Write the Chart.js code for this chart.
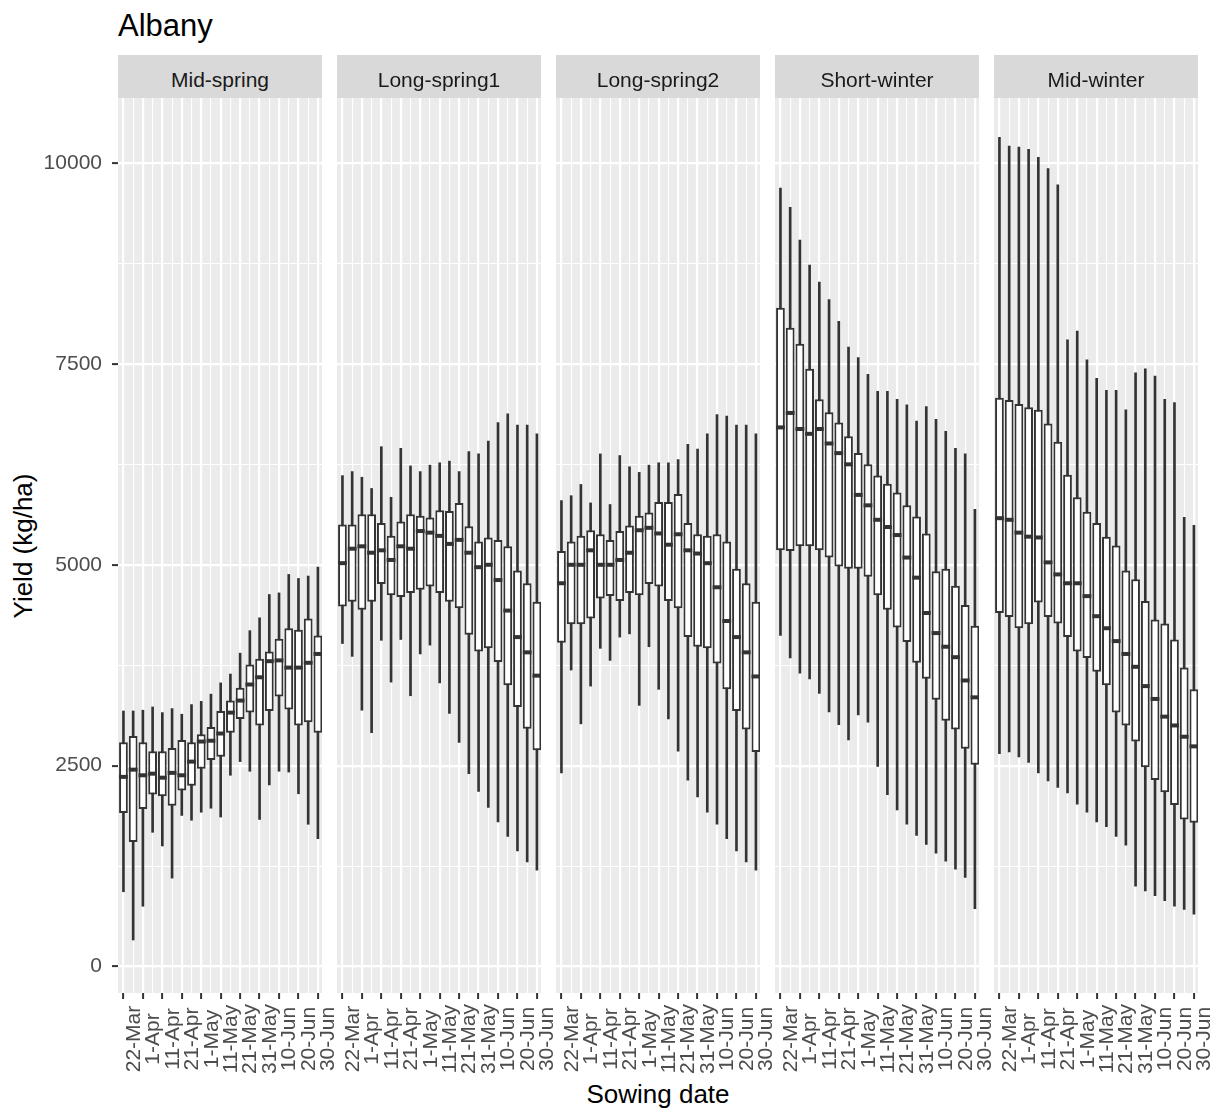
<!DOCTYPE html>
<html>
<head>
<meta charset="utf-8">
<title>Albany</title>
<script src="https://cdn.jsdelivr.net/npm/chart.js@4.4.1/dist/chart.umd.min.js"></script>
<style>
  html, body { margin: 0; padding: 0; background: #ffffff; }
  #page { position: relative; width: 1214px; height: 1108px; overflow: hidden;
          font-family: "Liberation Sans", Arial, sans-serif; }
  .title { position: absolute; left: 118px; top: 10px; font-size: 31px; line-height: 31px; color: #000; white-space: nowrap; }
  .strip { position: absolute; top: 55px; width: 204px; height: 43px; background: #D9D9D9; }
  .strip span { position: absolute; left: 0; right: 0; top: 14px; text-align: center;
                font-size: 21px; line-height: 21px; color: #1A1A1A; white-space: nowrap; }
  .xtitle { position: absolute; left: 458px; top: 1081px; width: 400px; text-align: center;
            font-size: 26px; line-height: 26px; color: #000; }
  .ytitle { position: absolute; left: -127px; top: 532.5px; width: 300px; height: 26px; text-align: center;
            font-size: 26px; line-height: 26px; color: #000; transform: rotate(-90deg); white-space: nowrap; }
  canvas { position: absolute; top: 98px; }
</style>
</head>
<body>
<div id="page">
  <div class="title">Albany</div>
  <div class="ytitle">Yield (kg/ha)</div>
  <div class="xtitle">Sowing date</div>
</div>
<script>
// Sowing dates as day of year, one box every 5 days (22-Mar .. 30-Jun)
const sowingDays = [81, 86, 91, 96, 101, 106, 111, 116, 121, 126, 131, 136, 141, 146, 151, 156, 161, 166, 171, 176, 181];
// Labelled dates on the x axis
const tickDays = [81, 91, 101, 111, 121, 131, 141, 151, 161, 171, 181];
const tickLabels = ['22-Mar', '1-Apr', '11-Apr', '21-Apr', '1-May', '11-May', '21-May', '31-May', '10-Jun', '20-Jun', '30-Jun'];
// Labelled yield values on the y axis
const yTickValues = [0, 2500, 5000, 7500, 10000];

// Panel (maturity type) names
const panelNames = ['Mid-spring', 'Long-spring1', 'Long-spring2', 'Short-winter', 'Mid-winter'];

// Yield (kg/ha) box statistics per sowing date
const midSpringMax    = [3180, 3180, 3190, 3230, 3160, 3210, 3140, 3260, 3300, 3390, 3530, 3640, 3900, 4180, 4340, 4630, 4650, 4880, 4830, 4860, 4970];
const midSpringQ3     = [2790, 2870, 2790, 2680, 2680, 2720, 2820, 2790, 2890, 2980, 3180, 3310, 3470, 3760, 3830, 3920, 4080, 4210, 4190, 4330, 4120];
const midSpringMedian = [2360, 2450, 2380, 2400, 2350, 2410, 2380, 2550, 2800, 2810, 2900, 3160, 3310, 3510, 3600, 3800, 3810, 3720, 3720, 3780, 3890];
const midSpringQ1     = [1910, 1550, 1960, 2140, 2120, 2000, 2190, 2250, 2460, 2570, 2610, 2910, 3080, 3160, 3000, 3180, 3360, 3200, 3000, 3040, 2910];
const midSpringMin    = [930, 330, 750, 1670, 1500, 1100, 1880, 1820, 1920, 1970, 1860, 2380, 2550, 2430, 1830, 2260, 2430, 2420, 2150, 1770, 1590];

const longSpring1Max    = [6110, 6160, 6090, 5950, 6470, 5840, 6450, 6230, 6160, 6240, 6270, 6290, 6160, 6410, 6380, 6540, 6770, 6880, 6740, 6740, 6630];
const longSpring1Q3     = [5500, 5500, 5630, 5630, 5520, 5360, 5540, 5630, 5610, 5590, 5680, 5670, 5770, 5480, 5290, 5340, 5310, 5230, 4930, 4770, 4540];
const longSpring1Median = [5020, 5200, 5230, 5150, 5180, 5060, 5230, 5200, 5420, 5400, 5360, 5260, 5310, 5150, 4970, 5000, 4810, 4430, 4100, 3910, 3620];
const longSpring1Q1     = [4480, 4540, 4440, 4540, 4760, 4620, 4600, 4650, 4690, 4730, 4650, 4540, 4460, 4130, 3920, 3960, 3790, 3500, 3230, 2960, 2690];
const longSpring1Min    = [4020, 3860, 3190, 2910, 4060, 3540, 4070, 3370, 3890, 4000, 3530, 3150, 2790, 2400, 2180, 1980, 1800, 1620, 1440, 1300, 1200];

const longSpring2Max    = [5800, 5860, 6000, 5770, 6380, 5750, 6360, 6220, 6150, 6240, 6270, 6270, 6310, 6500, 6440, 6630, 6870, 6850, 6740, 6740, 6630];
const longSpring2Q3     = [5170, 5290, 5360, 5430, 5380, 5310, 5420, 5490, 5610, 5650, 5780, 5780, 5880, 5520, 5380, 5360, 5380, 5290, 4950, 4770, 4540];
const longSpring2Median = [4770, 5000, 5000, 5180, 5000, 5000, 5060, 5150, 5430, 5460, 5390, 5250, 5380, 5180, 5140, 5020, 4720, 4300, 4100, 3910, 3610];
const longSpring2Q1     = [4030, 4260, 4260, 4330, 4580, 4610, 4550, 4650, 4620, 4760, 4730, 4550, 4460, 4100, 3980, 3960, 3770, 3450, 3180, 2950, 2670];
const longSpring2Min    = [2410, 3690, 3020, 3490, 3960, 3810, 4100, 4140, 3250, 3980, 3450, 3080, 2680, 2320, 2110, 1920, 1770, 1590, 1440, 1300, 1200];

const shortWinterMax    = [9690, 9450, 9040, 8730, 8520, 8300, 8030, 7710, 7580, 7370, 7160, 7160, 7060, 6990, 6790, 6970, 6810, 6660, 6450, 6380, 5690];
const shortWinterQ3     = [8200, 7950, 7750, 7440, 7060, 6900, 6770, 6600, 6390, 6250, 6110, 6010, 5900, 5740, 5600, 5390, 4920, 4950, 4740, 4500, 4240];
const shortWinterMedian = [6710, 6890, 6690, 6630, 6690, 6510, 6390, 6250, 5870, 5740, 5560, 5470, 5370, 5090, 4840, 4400, 4150, 3980, 3850, 3560, 3350];
const shortWinterQ1     = [5180, 5170, 5230, 5230, 5180, 5090, 4980, 4950, 4950, 4850, 4620, 4440, 4220, 4040, 3780, 3580, 3320, 3060, 2950, 2710, 2510];
const shortWinterMin    = [4120, 3840, 3650, 3580, 3400, 3170, 3010, 2820, 3130, 3040, 2490, 2140, 1950, 1770, 1630, 1520, 1410, 1310, 1210, 1110, 720];

const midWinterMax    = [10320, 10210, 10200, 10170, 10070, 9930, 9730, 7800, 7910, 7550, 7320, 7170, 7170, 6930, 7390, 7440, 7350, 7060, 7020, 5590, 5490];
const midWinterQ3     = [7080, 7050, 7000, 6960, 6930, 6760, 6530, 6120, 5840, 5660, 5520, 5350, 5240, 4930, 4820, 4550, 4320, 4270, 4070, 3720, 3450];
const midWinterMedian = [5580, 5560, 5400, 5350, 5340, 5030, 4880, 4770, 4770, 4610, 4360, 4210, 4050, 3890, 3730, 3490, 3330, 3110, 3000, 2860, 2740];
const midWinterQ1     = [4400, 4350, 4210, 4260, 4530, 4350, 4270, 4100, 3920, 3840, 3670, 3500, 3160, 3000, 2800, 2480, 2320, 2170, 2010, 1830, 1790];
const midWinterMin    = [2650, 2670, 2610, 2540, 2410, 2310, 2230, 2160, 2020, 1920, 1800, 1740, 1620, 1510, 1000, 940, 880, 820, 750, 710, 650];

// [min, q1, median, q3, max] per panel
const panelStats = [
  [midSpringMin, midSpringQ1, midSpringMedian, midSpringQ3, midSpringMax],
  [longSpring1Min, longSpring1Q1, longSpring1Median, longSpring1Q3, longSpring1Max],
  [longSpring2Min, longSpring2Q1, longSpring2Median, longSpring2Q3, longSpring2Max],
  [shortWinterMin, shortWinterQ1, shortWinterMedian, shortWinterQ3, shortWinterMax],
  [midWinterMin, midWinterQ1, midWinterMedian, midWinterQ3, midWinterMax]
];

// Grid: major lines at labelled values, minor lines half-way between them
const yGridValues = [];
yTickValues.forEach((v, i) => {
  yGridValues.push(v);
  if (i < yTickValues.length - 1) yGridValues.push((v + yTickValues[i + 1]) / 2);
});
const FONT = '"Liberation Sans", Arial, sans-serif';
Chart.defaults.font.family = FONT;

const PANEL_LEFT = 118, PANEL_STEP = 219, PANEL_W = 204, Y_AXIS_W = 118, X_AXIS_H = 115, CANVAS_H = 1010;
const LABEL_ROOM = 16;   // room on the right for the last rotated date label
const isMajorX = v => tickDays.includes(v);
const isMajorY = v => yTickValues.includes(v);

// Grey panel background
const panelBackground = {
  id: 'panelBackground',
  beforeDraw(chart) {
    const a = chart.chartArea, ctx = chart.ctx;
    ctx.save();
    ctx.fillStyle = '#EBEBEB';
    ctx.fillRect(a.left, a.top, a.right - a.left, a.bottom - a.top);
    ctx.restore();
  }
};

// Vertical sowing date labels, centred below the axis ticks
const dateLabels = {
  id: 'dateLabels',
  afterDraw(chart) {
    const xs = chart.scales.x, ctx = chart.ctx;
    ctx.save();
    ctx.font = '21px ' + FONT;
    ctx.fillStyle = '#4D4D4D';
    ctx.textAlign = 'center';
    ctx.textBaseline = 'top';
    tickDays.forEach((d, i) => {
      const px = xs.getPixelForValue(d);
      ctx.save();
      ctx.translate(px, xs.top + 46);
      ctx.rotate(-Math.PI / 2);
      ctx.fillText(tickLabels[i], 0, 0);
      ctx.restore();
    });
    ctx.restore();
  }
};

const page = document.getElementById('page');

panelNames.forEach((name, p) => {
  const withY = p === 0;
  const left = PANEL_LEFT + p * PANEL_STEP;

  const strip = document.createElement('div');
  strip.className = 'strip';
  strip.style.left = left + 'px';
  const label = document.createElement('span');
  label.textContent = name;
  strip.appendChild(label);
  page.appendChild(strip);

  const canvas = document.createElement('canvas');
  const cw = (withY ? Y_AXIS_W + PANEL_W : PANEL_W) + LABEL_ROOM;
  canvas.width = cw;
  canvas.height = CANVAS_H;
  canvas.style.left = (withY ? left - Y_AXIS_W : left) + 'px';
  page.appendChild(canvas);

  const [mins, q1s, meds, q3s, maxs] = panelStats[p];

  new Chart(canvas.getContext('2d'), {
    type: 'bar',
    data: {
      datasets: [
        {
          type: 'line',
          label: 'median',
          data: sowingDays.map((d, i) => ({ x: d, y: meds[i] })),
          showLine: false,
          pointStyle: 'line',
          pointRadius: 4.4,
          pointHoverRadius: 4.4,
          pointBorderWidth: 4,
          pointHoverBorderWidth: 4,
          pointBorderColor: '#333333',
          pointBackgroundColor: '#333333',
          order: 0
        },
        {
          type: 'bar',
          label: 'box',
          data: sowingDays.map((d, i) => ({ x: d, y: [q1s[i], q3s[i]] })),
          backgroundColor: '#FFFFFF',
          borderColor: '#333333',
          borderWidth: 2,
          borderSkipped: false,
          grouped: false,
          barPercentage: 1,
          categoryPercentage: 0.9,
          order: 1
        },
        {
          type: 'bar',
          label: 'whisker',
          data: sowingDays.map((d, i) => ({ x: d, y: [mins[i], maxs[i]] })),
          backgroundColor: '#333333',
          borderWidth: 0,
          barThickness: 2,
          grouped: false,
          order: 2
        }
      ]
    },
    options: {
      responsive: false,
      animation: false,
      devicePixelRatio: 1,
      events: [],
      layout: { padding: { left: 0, top: 0, bottom: 0, right: LABEL_ROOM }, autoPadding: false },
      plugins: { legend: { display: false }, tooltip: { enabled: false } },
      scales: {
        x: {
          type: 'linear',
          min: 78.2,
          max: 183.1,
          bounds: 'data',
          offset: false,
          afterBuildTicks: s => { s.ticks = sowingDays.map(v => ({ value: v })); },
          afterFit: s => { s.height = X_AXIS_H; s.paddingLeft = 0; s.paddingRight = 0; },
          ticks: { display: false, autoSkip: false },
          grid: {
            offset: false,
            color: '#FFFFFF',
            lineWidth: c => (c.tick && isMajorX(c.tick.value)) ? 2.2 : 1.1,
            drawTicks: true,
            tickLength: 6,
            tickWidth: 2,
            tickColor: c => (c.tick && isMajorX(c.tick.value)) ? '#333333' : 'rgba(0,0,0,0)'
          },
          border: { display: false }
        },
        y: {
          type: 'linear',
          min: -330,
          max: 10810,
          bounds: 'data',
          beginAtZero: false,
          afterBuildTicks: s => { s.ticks = yGridValues.map(v => ({ value: v })); },
          afterFit: s => { s.width = withY ? Y_AXIS_W : 0; s.paddingTop = 0; s.paddingBottom = 0; },
          ticks: {
            display: withY,
            autoSkip: false,
            padding: 10,
            color: '#4D4D4D',
            font: { family: FONT, size: 21 },
            callback: v => isMajorY(v) ? String(v) : ''
          },
          grid: {
            color: '#FFFFFF',
            lineWidth: c => (c.tick && isMajorY(c.tick.value)) ? 2.2 : 1.1,
            drawTicks: withY,
            tickLength: 6,
            tickWidth: 2,
            tickColor: c => (c.tick && isMajorY(c.tick.value)) ? '#333333' : 'rgba(0,0,0,0)'
          },
          border: { display: false }
        }
      }
    },
    plugins: [panelBackground, dateLabels]
  });
});
</script>
</body>
</html>
